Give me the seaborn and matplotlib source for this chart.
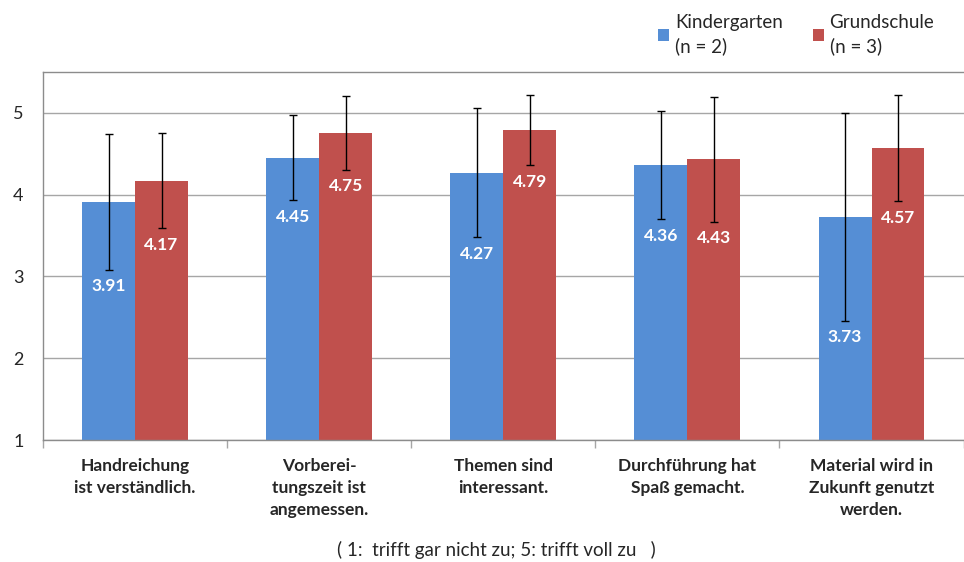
"""Grouped bar chart: Kindergarten vs. Grundschule ratings."""

import matplotlib
matplotlib.use("Agg")
import matplotlib.pyplot as plt
from matplotlib.patches import Patch
from matplotlib.ticker import FixedLocator
import numpy as np
import pandas as pd
import seaborn as sns

categories = [
    "Handreichung\nist verständlich.",
    "Vorberei-\ntungszeit ist\nangemessen.",
    "Themen sind\ninteressant.",
    "Durchführung hat\nSpaß gemacht.",
    "Material wird in\nZukunft genutzt\nwerden.",
]
groups = ["Kindergarten", "Grundschule"]
group_labels = ["Kindergarten\n(n = 2)", "Grundschule\n(n = 3)"]
kita_mean = [3.91, 4.45, 4.27, 4.36, 3.73]
kita_err = [0.83, 0.52, 0.79, 0.66, 1.27]
schule_mean = [4.17, 4.75, 4.79, 4.43, 4.57]
schule_err = [0.58, 0.45, 0.43, 0.76, 0.65]
y_ticks = [1, 2, 3, 4, 5]
footnote = "( 1:  trifft gar nicht zu; 5: trifft voll zu   )"

colors = ["#558ED5", "#C0504D"]

sns.set_theme(style="white")
plt.rcParams["font.family"] = ["Lato", "DejaVu Sans"]

df = pd.DataFrame({
    "Aussage": categories * 2,
    "Gruppe": [groups[0]] * len(categories) + [groups[1]] * len(categories),
    "Wert": kita_mean + schule_mean,
})
errs = [kita_err, schule_err]
means = [kita_mean, schule_mean]

fig = plt.figure(figsize=(9.64, 5.62), dpi=100)
ax = fig.add_axes([0.0446, 0.217, 0.955, 0.655])

sns.barplot(data=df, x="Aussage", y="Wert", hue="Gruppe", order=categories,
            hue_order=groups, palette=colors, width=0.575, gap=0,
            errorbar=None, legend=False, saturation=1, ax=ax)

for bar in ax.patches:
    bar.set_edgecolor("none")

# error bars and value labels, one container per group
for cont, m, e in zip(ax.containers, means, errs):
    xs = [b.get_x() + b.get_width() / 2 for b in cont]
    ax.errorbar(xs, m, yerr=e, fmt="none", ecolor="black", elinewidth=1,
                capsize=3, capthick=1, zorder=5)
    for x, v, d in zip(xs, m, e):
        ax.text(x, v - d - 0.2, f"{v:.2f}", ha="center", va="center",
                color="white", fontsize=12.5, fontweight="bold", zorder=6)

ax.set_ylim(1, 5.5)
ax.set_xlim(-0.5, len(categories) - 0.5)
ax.set_yticks(y_ticks)
ax.set_yticklabels([str(t) for t in y_ticks], fontsize=13)
ax.yaxis.grid(True, color="#a6a6a6", linewidth=1)
ax.set_axisbelow(True)
ax.tick_params(axis="y", length=0, pad=14)

ax.tick_params(axis="x", which="major", length=0, pad=13)
ax.set_xticklabels(categories, fontsize=12.5, fontweight="bold", linespacing=1.45)
ax.xaxis.set_minor_locator(FixedLocator(np.arange(-0.5, len(categories), 1.0)))
ax.tick_params(axis="x", which="minor", length=6, width=1, color="#a6a6a6",
               bottom=True)
ax.set_xlabel("")
ax.set_ylabel("")

for side in ["left", "bottom", "top"]:
    ax.spines[side].set_visible(True)
    ax.spines[side].set_color("#8c8c8c")
    ax.spines[side].set_linewidth(1)
ax.spines["right"].set_visible(False)

handles = [Patch(facecolor=c, edgecolor="none") for c in colors]
leg = fig.legend(handles, group_labels, loc="upper left",
                 bbox_to_anchor=(0.665, 1.005), ncol=2, frameon=False,
                 fontsize=13.5, handlelength=0.6, handleheight=0.6,
                 handletextpad=0.3, columnspacing=1.6)
for t in leg.get_texts():
    t.set_linespacing(1.4)

fig.text(0.515, 0.006, footnote, ha="center", va="bottom", fontsize=13.5)

fig.savefig("out.png", dpi=100)
